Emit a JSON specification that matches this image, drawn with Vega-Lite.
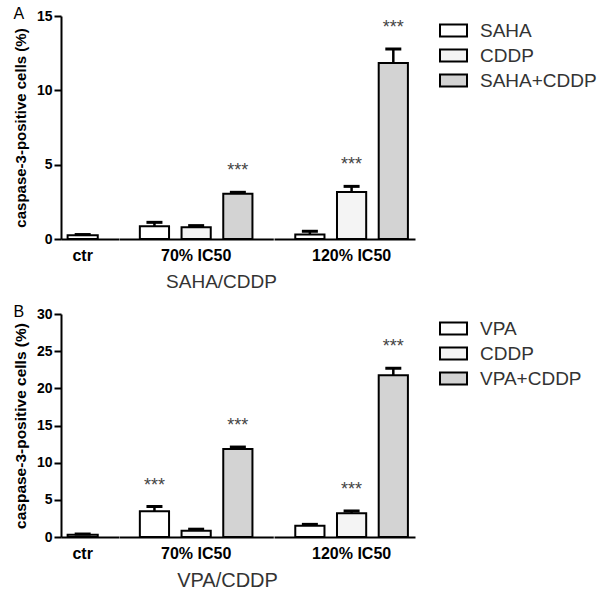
{
  "$schema": "https://vega.github.io/schema/vega-lite/v6.json",
  "padding": {"left": 13, "top": 6, "right": 5, "bottom": 5},
  "datasets": {
    "saha": [
      {"group": "ctr", "treatment": "ctr", "value": 0.25, "upper": 0.3, "star": ""},
      {"group": "70% IC50", "treatment": "SAHA", "value": 0.85, "upper": 1.12, "star": ""},
      {"group": "70% IC50", "treatment": "CDDP", "value": 0.79, "upper": 0.9, "star": ""},
      {"group": "70% IC50", "treatment": "SAHA+CDDP", "value": 3.05, "upper": 3.14, "star": "***"},
      {"group": "120% IC50", "treatment": "SAHA", "value": 0.3, "upper": 0.52, "star": ""},
      {"group": "120% IC50", "treatment": "CDDP", "value": 3.16, "upper": 3.54, "star": "***"},
      {"group": "120% IC50", "treatment": "SAHA+CDDP", "value": 11.84, "upper": 12.78, "star": "***"}
    ],
    "vpa": [
      {"group": "ctr", "treatment": "ctr", "value": 0.3, "upper": 0.4, "star": ""},
      {"group": "70% IC50", "treatment": "VPA", "value": 3.45, "upper": 4.1, "star": "***"},
      {"group": "70% IC50", "treatment": "CDDP", "value": 0.85, "upper": 1.05, "star": ""},
      {"group": "70% IC50", "treatment": "VPA+CDDP", "value": 11.85, "upper": 12.1, "star": "***"},
      {"group": "120% IC50", "treatment": "VPA", "value": 1.5, "upper": 1.7, "star": ""},
      {"group": "120% IC50", "treatment": "CDDP", "value": 3.19, "upper": 3.5, "star": "***"},
      {"group": "120% IC50", "treatment": "VPA+CDDP", "value": 21.76, "upper": 22.7, "star": "***"}
    ]
  },
  "config": {
    "font": "Liberation Sans",
    "view": {"stroke": null},
    "axis": {"domainColor": "black", "domainWidth": 2, "tickColor": "black", "tickWidth": 2, "labelColor": "black", "titleColor": "black", "grid": false, "labelOverlap": false},
    "legend": {
      "orient": "right", "offset": 24, "padding": 0, "title": null,
      "symbolType": "M-1,-0.44H1V0.44H-1Z", "symbolSize": 729,
      "symbolStrokeColor": "black", "symbolStrokeWidth": 2, "symbolOpacity": 1,
      "labelFontSize": 19, "labelColor": "#333", "labelOffset": 12, "rowPadding": 0
    },
    "concat": {"spacing": 0}
  },
  "resolve": {"scale": {"fill": "independent"}, "legend": {"fill": "independent"}},
  "spacing": 13,
  "vconcat": [
    {
      "title": {"text": "A", "anchor": "start", "frame": "bounds", "orient": "top", "fontSize": 16, "fontWeight": "normal", "offset": -13},
      "bounds": "flush",
      "spacing": 0,
      "hconcat": [
        {
          "width": 57.7, "height": 223,
          "data": {"name": "saha"},
          "transform": [{"filter": "datum.group == 'ctr'"}],
          "encoding": {
            "x": {"field": "treatment", "type": "nominal", "scale": {"domain": ["ctr"], "paddingInner": 0.3, "paddingOuter": 0.32, "align": 0.24},
              "axis": {"title": null, "ticks": false, "labelExpr": "'ctr'", "labelFontSize": 16, "labelFontWeight": "bold", "labelPadding": 8, "labelAngle": 0}}
          },
          "layer": [
            {"mark": {"type": "bar", "stroke": "black", "strokeWidth": 2},
             "encoding": {
               "y": {"field": "value", "type": "quantitative", "scale": {"domain": [0, 15], "nice": false},
                 "axis": {"values": [0, 5, 10, 15], "tickSize": 7, "labelPadding": 2, "labelFontSize": 14, "labelFontWeight": "bold", "title": "caspase-3-positive cells (%)", "titleFontSize": 15, "titleFontWeight": "bold", "titlePadding": 8}},
               "fill": {"field": "treatment", "type": "nominal", "scale": {"domain": ["ctr", "SAHA", "CDDP", "SAHA+CDDP"], "range": ["white", "white", "#f4f4f4", "#d3d3d3"]}, "legend": {"values": ["SAHA", "CDDP", "SAHA+CDDP"]}}
             }},
            {"mark": {"type": "rule", "strokeWidth": 2.5, "color": "black"},
             "encoding": {"y": {"field": "value", "type": "quantitative", "scale": {"domain": [0, 15], "nice": false},
                 "axis": {"values": [0, 5, 10, 15], "tickSize": 7, "labelPadding": 2, "labelFontSize": 14, "labelFontWeight": "bold", "title": "caspase-3-positive cells (%)", "titleFontSize": 15, "titleFontWeight": "bold", "titlePadding": 8}},
               "y2": {"field": "upper"}}},
            {"mark": {"type": "tick", "thickness": 3, "size": 16, "color": "black", "opacity": 1},
             "encoding": {"y": {"field": "upper", "type": "quantitative", "scale": {"domain": [0, 15], "nice": false},
                 "axis": {"values": [0, 5, 10, 15], "tickSize": 7, "labelPadding": 2, "labelFontSize": 14, "labelFontWeight": "bold", "title": "caspase-3-positive cells (%)", "titleFontSize": 15, "titleFontWeight": "bold", "titlePadding": 8}}}}
          ]
        },
        {
          "width": 154.3, "height": 223,
          "data": {"name": "saha"},
          "transform": [{"filter": "datum.group == '70% IC50'"}],
          "encoding": {
            "x": {"field": "treatment", "type": "nominal", "scale": {"domain": ["SAHA", "CDDP", "SAHA+CDDP"], "paddingInner": 0.3, "paddingOuter": 0.5},
              "axis": {"ticks": false, "labelExpr": "datum.value == 'CDDP' ? '70% IC50' : ''", "labelFontSize": 16, "labelFontWeight": "bold", "labelPadding": 8, "labelAngle": 0,
                "title": "SAHA/CDDP", "titleX": 102, "titleFontSize": 19, "titleFontWeight": "normal", "titleColor": "#333", "titlePadding": 9}}
          },
          "layer": [
            {"mark": {"type": "bar", "stroke": "black", "strokeWidth": 2},
             "encoding": {
               "y": {"field": "value", "type": "quantitative", "scale": {"domain": [0, 15], "nice": false}, "axis": null},
               "fill": {"field": "treatment", "type": "nominal", "scale": {"domain": ["ctr", "SAHA", "CDDP", "SAHA+CDDP"], "range": ["white", "white", "#f4f4f4", "#d3d3d3"]}, "legend": {"values": ["SAHA", "CDDP", "SAHA+CDDP"]}}
             }},
            {"mark": {"type": "rule", "strokeWidth": 2.5, "color": "black"},
             "encoding": {"y": {"field": "value", "type": "quantitative", "scale": {"domain": [0, 15], "nice": false}, "axis": null}, "y2": {"field": "upper"}}},
            {"mark": {"type": "tick", "thickness": 3, "size": 16, "color": "black", "opacity": 1},
             "encoding": {"y": {"field": "upper", "type": "quantitative", "scale": {"domain": [0, 15], "nice": false}, "axis": null}}},
            {"mark": {"type": "text", "fontSize": 18, "color": "#444", "baseline": "alphabetic", "dy": -16},
             "encoding": {"y": {"field": "upper", "type": "quantitative", "scale": {"domain": [0, 15], "nice": false}, "axis": null}, "text": {"field": "star"}}}
          ]
        },
        {
          "width": 141, "height": 223,
          "data": {"name": "saha"},
          "transform": [{"filter": "datum.group == '120% IC50'"}],
          "encoding": {
            "x": {"field": "treatment", "type": "nominal", "scale": {"domain": ["SAHA", "CDDP", "SAHA+CDDP"], "paddingInner": 0.3, "paddingOuter": 0.34, "align": 0.75},
              "axis": {"title": null, "ticks": false, "labelExpr": "datum.value == 'CDDP' ? '120% IC50' : ''", "labelFontSize": 16, "labelFontWeight": "bold", "labelPadding": 8, "labelAngle": 0}}
          },
          "layer": [
            {"mark": {"type": "bar", "stroke": "black", "strokeWidth": 2},
             "encoding": {
               "y": {"field": "value", "type": "quantitative", "scale": {"domain": [0, 15], "nice": false}, "axis": null},
               "fill": {"field": "treatment", "type": "nominal", "scale": {"domain": ["ctr", "SAHA", "CDDP", "SAHA+CDDP"], "range": ["white", "white", "#f4f4f4", "#d3d3d3"]}, "legend": {"values": ["SAHA", "CDDP", "SAHA+CDDP"]}}
             }},
            {"mark": {"type": "rule", "strokeWidth": 2.5, "color": "black"},
             "encoding": {"y": {"field": "value", "type": "quantitative", "scale": {"domain": [0, 15], "nice": false}, "axis": null}, "y2": {"field": "upper"}}},
            {"mark": {"type": "tick", "thickness": 3, "size": 16, "color": "black", "opacity": 1},
             "encoding": {"y": {"field": "upper", "type": "quantitative", "scale": {"domain": [0, 15], "nice": false}, "axis": null}}},
            {"mark": {"type": "text", "fontSize": 18, "color": "#444", "baseline": "alphabetic", "dy": -16},
             "encoding": {"y": {"field": "upper", "type": "quantitative", "scale": {"domain": [0, 15], "nice": false}, "axis": null}, "text": {"field": "star"}}}
          ]
        }
      ]
    },
    {
      "title": {"text": "B", "anchor": "start", "frame": "bounds", "orient": "top", "fontSize": 16, "fontWeight": "normal", "offset": -13},
      "bounds": "flush",
      "spacing": 0,
      "hconcat": [
        {
          "width": 57.7, "height": 223,
          "data": {"name": "vpa"},
          "transform": [{"filter": "datum.group == 'ctr'"}],
          "encoding": {
            "x": {"field": "treatment", "type": "nominal", "scale": {"domain": ["ctr"], "paddingInner": 0.3, "paddingOuter": 0.32, "align": 0.24},
              "axis": {"title": null, "ticks": false, "labelExpr": "'ctr'", "labelFontSize": 16, "labelFontWeight": "bold", "labelPadding": 8, "labelAngle": 0}}
          },
          "layer": [
            {"mark": {"type": "bar", "stroke": "black", "strokeWidth": 2},
             "encoding": {
               "y": {"field": "value", "type": "quantitative", "scale": {"domain": [0, 30], "nice": false},
                 "axis": {"values": [0, 5, 10, 15, 20, 25, 30], "tickSize": 7, "labelPadding": 2, "labelFontSize": 14, "labelFontWeight": "bold", "title": "caspase-3-positive cells (%)", "titleFontSize": 15.5, "titleFontWeight": "bold", "titlePadding": 8}},
               "fill": {"field": "treatment", "type": "nominal", "scale": {"domain": ["ctr", "VPA", "CDDP", "VPA+CDDP"], "range": ["white", "white", "#f4f4f4", "#d3d3d3"]}, "legend": {"values": ["VPA", "CDDP", "VPA+CDDP"]}}
             }},
            {"mark": {"type": "rule", "strokeWidth": 2.5, "color": "black"},
             "encoding": {"y": {"field": "value", "type": "quantitative", "scale": {"domain": [0, 30], "nice": false},
                 "axis": {"values": [0, 5, 10, 15, 20, 25, 30], "tickSize": 7, "labelPadding": 2, "labelFontSize": 14, "labelFontWeight": "bold", "title": "caspase-3-positive cells (%)", "titleFontSize": 15.5, "titleFontWeight": "bold", "titlePadding": 8}},
               "y2": {"field": "upper"}}},
            {"mark": {"type": "tick", "thickness": 3, "size": 16, "color": "black", "opacity": 1},
             "encoding": {"y": {"field": "upper", "type": "quantitative", "scale": {"domain": [0, 30], "nice": false},
                 "axis": {"values": [0, 5, 10, 15, 20, 25, 30], "tickSize": 7, "labelPadding": 2, "labelFontSize": 14, "labelFontWeight": "bold", "title": "caspase-3-positive cells (%)", "titleFontSize": 15.5, "titleFontWeight": "bold", "titlePadding": 8}}}}
          ]
        },
        {
          "width": 154.3, "height": 223,
          "data": {"name": "vpa"},
          "transform": [{"filter": "datum.group == '70% IC50'"}],
          "encoding": {
            "x": {"field": "treatment", "type": "nominal", "scale": {"domain": ["VPA", "CDDP", "VPA+CDDP"], "paddingInner": 0.3, "paddingOuter": 0.5},
              "axis": {"ticks": false, "labelExpr": "datum.value == 'CDDP' ? '70% IC50' : ''", "labelFontSize": 16, "labelFontWeight": "bold", "labelPadding": 8, "labelAngle": 0,
                "title": "VPA/CDDP", "titleX": 108, "titleFontSize": 20, "titleFontWeight": "normal", "titleColor": "#333", "titlePadding": 9}}
          },
          "layer": [
            {"mark": {"type": "bar", "stroke": "black", "strokeWidth": 2},
             "encoding": {
               "y": {"field": "value", "type": "quantitative", "scale": {"domain": [0, 30], "nice": false}, "axis": null},
               "fill": {"field": "treatment", "type": "nominal", "scale": {"domain": ["ctr", "VPA", "CDDP", "VPA+CDDP"], "range": ["white", "white", "#f4f4f4", "#d3d3d3"]}, "legend": {"values": ["VPA", "CDDP", "VPA+CDDP"]}}
             }},
            {"mark": {"type": "rule", "strokeWidth": 2.5, "color": "black"},
             "encoding": {"y": {"field": "value", "type": "quantitative", "scale": {"domain": [0, 30], "nice": false}, "axis": null}, "y2": {"field": "upper"}}},
            {"mark": {"type": "tick", "thickness": 3, "size": 16, "color": "black", "opacity": 1},
             "encoding": {"y": {"field": "upper", "type": "quantitative", "scale": {"domain": [0, 30], "nice": false}, "axis": null}}},
            {"mark": {"type": "text", "fontSize": 18, "color": "#444", "baseline": "alphabetic", "dy": -16},
             "encoding": {"y": {"field": "upper", "type": "quantitative", "scale": {"domain": [0, 30], "nice": false}, "axis": null}, "text": {"field": "star"}}}
          ]
        },
        {
          "width": 141, "height": 223,
          "data": {"name": "vpa"},
          "transform": [{"filter": "datum.group == '120% IC50'"}],
          "encoding": {
            "x": {"field": "treatment", "type": "nominal", "scale": {"domain": ["VPA", "CDDP", "VPA+CDDP"], "paddingInner": 0.3, "paddingOuter": 0.34, "align": 0.75},
              "axis": {"title": null, "ticks": false, "labelExpr": "datum.value == 'CDDP' ? '120% IC50' : ''", "labelFontSize": 16, "labelFontWeight": "bold", "labelPadding": 8, "labelAngle": 0}}
          },
          "layer": [
            {"mark": {"type": "bar", "stroke": "black", "strokeWidth": 2},
             "encoding": {
               "y": {"field": "value", "type": "quantitative", "scale": {"domain": [0, 30], "nice": false}, "axis": null},
               "fill": {"field": "treatment", "type": "nominal", "scale": {"domain": ["ctr", "VPA", "CDDP", "VPA+CDDP"], "range": ["white", "white", "#f4f4f4", "#d3d3d3"]}, "legend": {"values": ["VPA", "CDDP", "VPA+CDDP"]}}
             }},
            {"mark": {"type": "rule", "strokeWidth": 2.5, "color": "black"},
             "encoding": {"y": {"field": "value", "type": "quantitative", "scale": {"domain": [0, 30], "nice": false}, "axis": null}, "y2": {"field": "upper"}}},
            {"mark": {"type": "tick", "thickness": 3, "size": 16, "color": "black", "opacity": 1},
             "encoding": {"y": {"field": "upper", "type": "quantitative", "scale": {"domain": [0, 30], "nice": false}, "axis": null}}},
            {"mark": {"type": "text", "fontSize": 18, "color": "#444", "baseline": "alphabetic", "dy": -16},
             "encoding": {"y": {"field": "upper", "type": "quantitative", "scale": {"domain": [0, 30], "nice": false}, "axis": null}, "text": {"field": "star"}}}
          ]
        }
      ]
    }
  ]
}
